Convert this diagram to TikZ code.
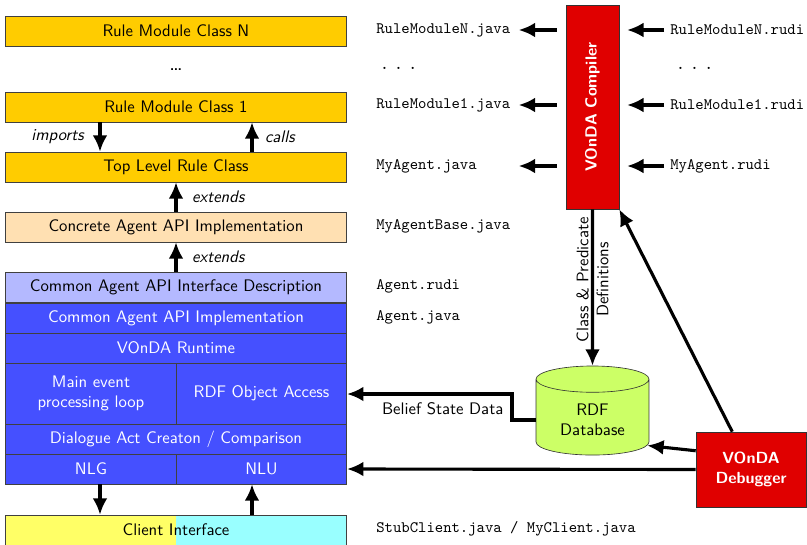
\documentclass[tikz,border=0pt]{standalone}
\usepackage{tikz}
\usetikzlibrary{shapes.geometric,arrows.meta}
\definecolor{rulegold}{RGB}{255,204,0}
\definecolor{peach}{RGB}{255,224,178}
\definecolor{paleblue}{RGB}{180,185,255}
\definecolor{rtblue}{RGB}{69,80,255}
\definecolor{cliyellow}{RGB}{255,255,102}
\definecolor{clicyan}{RGB}{153,255,255}
\definecolor{vondared}{RGB}{224,0,0}
\definecolor{dbgreen}{RGB}{204,255,102}
\newcommand\boxfont{\sffamily\fontsize{10.7pt}{12.8pt}\selectfont}
\newcommand\toolfont{\sffamily\bfseries\fontsize{10.3pt}{12.4pt}\selectfont}
\newcommand\filefont{\ttfamily\fontsize{10.2pt}{12pt}\selectfont}

\begin{document}
\begin{tikzpicture}[x=0.64pt,y=-0.64pt,
    layer/.style={draw=black!75, inner sep=0pt, minimum width=218.2pt, minimum height=19.2pt, font=\boxfont},
    half/.style={layer, minimum width=109.1pt},
    fname/.style={anchor=west, inner sep=0pt, font=\filefont},
    arr/.style={line width=2pt, -{Latex[length=10.5pt,width=9.5pt]}},
    lbl/.style={font=\boxfont\itshape},
    tool/.style={draw=black!80, fill=vondared, text=white, font=\toolfont, inner sep=0pt}]
  \useasboundingbox (0,0) rectangle (807,544);

  \node[layer, fill=rulegold] (rmN) at (176,31) {Rule Module Class N};
  \node[font=\sffamily\Large] (dots) at (176,70) {\dots};
  \node[layer, fill=rulegold] (rm1) at (176,107) {Rule Module Class 1};
  \node[layer, fill=rulegold] (top) at (176,167) {Top Level Rule Class};
  \node[layer, fill=peach] (concrete) at (176,227) {Concrete Agent API Implementation};
  \node[layer, fill=paleblue] (desc) at (176,287.5) {Common Agent API Interface Description};
  \node[layer, fill=rtblue, text=white] (impl) at (176,318) {Common Agent API Implementation};
  \node[layer, fill=rtblue, text=white] (runtime) at (176,348) {VOnDA Runtime};
  \node[half, fill=rtblue, text=white, minimum height=39pt, align=center] (loop) at (91,393.5) {Main event\\processing loop};
  \node[half, fill=rtblue, text=white, minimum height=39pt] (rdfobj) at (261.5,393.5) {RDF Object Access};
  \node[layer, fill=rtblue, text=white] (dialog) at (176,439) {Dialogue Act Creaton / Comparison};
  \node[half, fill=rtblue, text=white] (nlg) at (91,469) {NLG};
  \node[half, fill=rtblue, text=white] (nlu) at (261.5,469) {NLU};
  \node[layer, path picture={
      \fill[cliyellow] (path picture bounding box.south west) rectangle (path picture bounding box.north);
      \fill[clicyan] (path picture bounding box.south) rectangle (path picture bounding box.north east);}]
    (client) at (176,530) {Client Interface};

  \coordinate (lx) at (100,0);
  \coordinate (rx) at (252,0);
  \draw[arr] (rm1.south -| lx) -- node[lbl, left=6pt] {imports} (top.north -| lx);
  \draw[arr] (top.north -| rx) -- node[lbl, right=4pt] {calls} (rm1.south -| rx);
  \draw[arr] (concrete.north) -- node[lbl, right=6pt] {extends} (top.south);
  \draw[arr] (desc.north) -- node[lbl, right=6pt] {extends} (concrete.south);
  \draw[arr] (nlg.south -| lx) -- (client.north -| lx);
  \draw[arr] (client.north -| rx) -- (nlu.south -| rx);

  \node[fname] (javaN) at (376,30) {RuleModuleN.java};
  \node[fname, font=\filefont\bfseries] (dotsL) at (380,68) {.\hspace{3.7pt}.\hspace{3.7pt}.};
  \node[fname] (java1) at (376,105) {RuleModule1.java};
  \node[fname] (myjava) at (376,166) {MyAgent.java};
  \node[fname] (base) at (376,226) {MyAgentBase.java};
  \node[fname] (agrudi) at (376,286) {Agent.rudi};
  \node[fname] (agjava) at (376,317) {Agent.java};
  \node[fname] (stub) at (376,529) {StubClient.java / MyClient.java};
  \node[fname] (rudiN) at (670,30) {RuleModuleN.rudi};
  \node[fname, font=\filefont\bfseries] (dotsR) at (676,68) {.\hspace{3.7pt}.\hspace{3.7pt}.};
  \node[fname] (rudi1) at (670,105) {RuleModule1.rudi};
  \node[fname] (myrudi) at (670,166) {MyAgent.rudi};

  \node[tool, minimum width=33.9pt, minimum height=130.6pt] (compiler) at (592.5,107) {};
  \node[text=white, font=\toolfont, rotate=90] (complabel) at (compiler.center) {VOnDA Compiler};
  \node[tool, minimum width=70.4pt, minimum height=48pt, align=center] (debug) at (751,469.5) {VOnDA\\Debugger};
  \node[cylinder, shape border rotate=90, aspect=0.35, draw=black!80, fill=dbgreen, minimum width=72.3pt, minimum height=57pt, align=center, font=\boxfont] (rdf) at (592.5,420) {RDF\\Database};

  \foreach \src in {javaN,java1,myjava}
    \draw[arr] (compiler.west |- \src) ++(-9,0) -- ++(-38,0);
  \foreach \src in {rudiN,rudi1,myrudi}
    \draw[arr] (\src.west) ++(-6,0) -- ([xshift=5pt]compiler.east |- \src.west);

  \draw[arr] (compiler.south) -- node[rotate=90, align=center, font=\boxfont, pos=0.45] {Class \& Predicate\\Definitions} (rdf.north);
  \coordinate (bend) at (512,394);
  \draw[arr] (rdf.west) -| (bend) -- node[below=1pt, pos=0.42, font=\boxfont] {Belief State Data} (rdfobj.east |- bend);
  \draw[arr] ([xshift=-12pt]debug.north) -- (compiler.south east);
  \draw[arr] ([yshift=12pt]debug.west) -- (rdf.-25);
  \draw[arr] (debug.west) -- (nlu.east);
\end{tikzpicture}
\end{document}
